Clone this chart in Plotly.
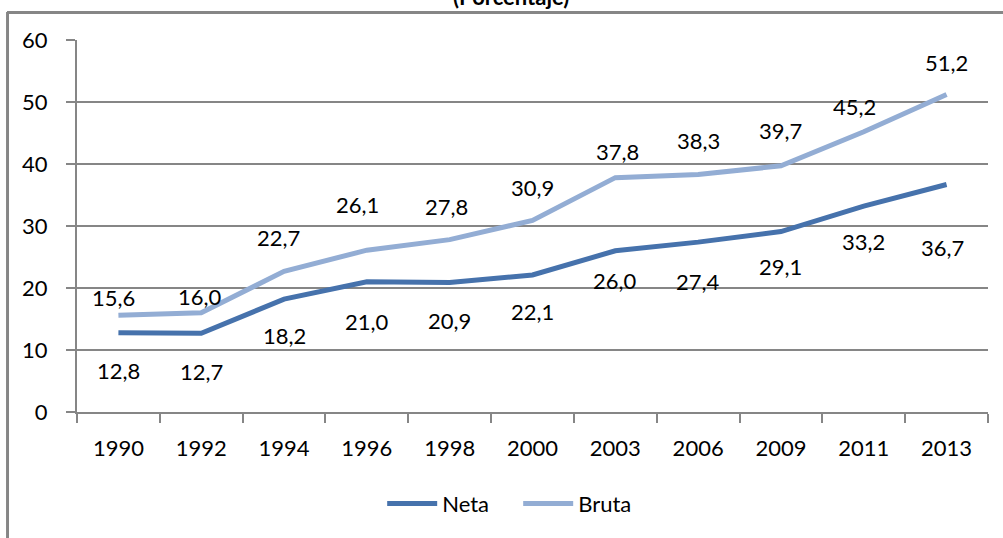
import plotly.graph_objects as go

years = ["1990", "1992", "1994", "1996", "1998", "2000", "2003", "2006", "2009", "2011", "2013"]
neta = [12.8, 12.7, 18.2, 21.0, 20.9, 22.1, 26.0, 27.4, 29.1, 33.2, 36.7]
bruta = [15.6, 16.0, 22.7, 26.1, 27.8, 30.9, 37.8, 38.3, 39.7, 45.2, 51.2]

# label placement offsets (pixels) as in the original
neta_yshift = [-38, -38, -36, -40, -38, -37, -30, -39, -35, -35, -63]
neta_xshift = [0, 0, 0, 0, 0, 0, 0, 0, 0, 0, -4]
bruta_yshift = [18, 16, 34, 46, 33, 33, 26, 34, 35, 25, 32]
bruta_xshift = [-5, -1, -6, -9, -3, 0, 2, 0, 0, -9, 0]

FONT = "Lato"
NETA_C = "#4672AC"
BRUTA_C = "#93ADD4"
GRAY = "#868686"

fig = go.Figure()
fig.add_trace(go.Scatter(x=years, y=neta, name="Neta", mode="lines",
                         line=dict(color=NETA_C, width=5)))
fig.add_trace(go.Scatter(x=years, y=bruta, name="Bruta", mode="lines",
                         line=dict(color=BRUTA_C, width=5)))

def fmt(v):
    return f"{v:.1f}".replace(".", ",")

anns = []
# outer chart frame (top and left edges visible in the window)
anns.append(dict(x=-0.0768, y=1.075, xref="paper", yref="paper", xanchor="left", yanchor="top",
                 text="", showarrow=False, width=1100, height=600,
                 bordercolor=GRAY, borderwidth=2, borderpad=0, bgcolor="rgba(0,0,0,0)"))
for i, yv in enumerate(years):
    anns.append(dict(x=i, y=neta[i], text=fmt(neta[i]), showarrow=False,
                     xref="x", yref="y", yshift=neta_yshift[i], xshift=neta_xshift[i],
                     font=dict(family=FONT, size=22, color="black")))
    anns.append(dict(x=i, y=bruta[i], text=fmt(bruta[i]), showarrow=False,
                     xref="x", yref="y", yshift=bruta_yshift[i], xshift=bruta_xshift[i],
                     font=dict(family=FONT, size=22, color="black")))

anns.append(dict(x=0.476, y=1.076, xref="paper", yref="paper", yanchor="bottom",
                 text="<b>(Porcentaje)</b>", showarrow=False, bgcolor="rgba(0,0,0,0)",
                 font=dict(family=FONT, size=22, color="black")))

fig.update_layout(
    width=1003, height=538,
    margin=dict(l=77, r=15, t=40, b=126, autoexpand=False),
    paper_bgcolor="white", plot_bgcolor="white",
    font=dict(family=FONT, size=22, color="black"),
    annotations=anns,
    showlegend=True,
    legend=dict(orientation="h", x=0.335, xanchor="left", y=-0.19, yanchor="top",
                font=dict(family=FONT, size=22, color="black"), itemwidth=50,
                entrywidth=71, entrywidthmode="pixels", traceorder="normal"),
    xaxis=dict(type="category", range=[-0.5, 10.5], showgrid=False, showline=True,
               linecolor=GRAY, linewidth=2, tickangle=0, automargin=False,
               ticks="outside", tickson="boundaries", ticklen=9, tickcolor=GRAY, tickwidth=2,
               ticklabelstandoff=16, tickfont=dict(family=FONT, size=22, color="black")),
    yaxis=dict(range=[0, 60], dtick=10, showgrid=True, gridcolor=GRAY, gridwidth=1.5,
               showline=True, linecolor=GRAY, linewidth=2, ticks="outside", ticklen=9,
               tickcolor=GRAY, tickwidth=2, zeroline=False, ticklabelstandoff=14,
               automargin=False, tickfont=dict(family=FONT, size=22, color="black")),
    shapes=[
        dict(type="line", xref="paper", yref="paper", x0=-0.0768, x1=1.1, y0=1.075, y1=1.075,
             line=dict(color=GRAY, width=2), layer="above"),
        dict(type="line", xref="paper", yref="paper", x0=-0.0768, x1=-0.0768, y0=-0.4, y1=1.075,
             line=dict(color=GRAY, width=2), layer="above"),
    ],
)

fig.write_html("out.html", config={"displayModeBar": False},
               post_script="document.body.style.margin='0';document.body.style.overflow='hidden';")
